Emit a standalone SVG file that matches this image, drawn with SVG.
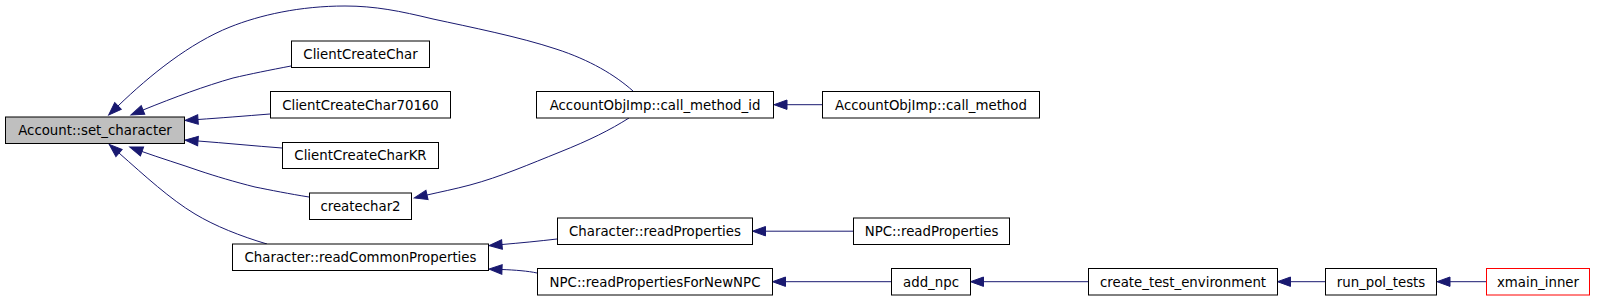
<svg xmlns="http://www.w3.org/2000/svg" width="1597" height="300" viewBox="0 0 1597 300">
<style>
.n rect{fill:#ffffff;stroke:#000000;stroke-width:1}
.n text{font-family:"DejaVu Sans",sans-serif;font-size:13.33px;fill:#000000;text-anchor:middle}
.e path{fill:none;stroke:#191970;stroke-width:1;marker-end:url(#arr)}
</style>
<defs>
<marker id="arr" markerUnits="userSpaceOnUse" markerWidth="16" markerHeight="12" refX="0" refY="0" viewBox="0 -6 16 12" orient="auto" overflow="visible">
<path d="M0,-4.7 L13,0 L0,4.7 Z" fill="#191970" stroke="#191970" stroke-width="1"/>
</marker>
</defs>
<rect width="1597" height="300" fill="#ffffff"/>
<g class="e" id="edges">
<path d="M633,91 C615,75 590,60 556,49 C520,37 470,27 433,19 C400,11 375,6 345,6 C300,6 260,15 230,27 C190,43 150,75 118,106"/>
<path d="M291,66 C270,70 250,74 233,78 C205,86 175,97 143,110"/>
<path d="M270,114 C245,116 220,118 198,119.5"/>
<path d="M282,148 C255,146 225,143 198,141"/>
<path d="M309,197 C290,194 270,190 255,187 C235,182 215,176 200,171 C180,164 160,158 142,151.5"/>
<path d="M267,244 C240,236 215,226 195,214 C170,199 145,176 119,153"/>
<path d="M629,118 C610,130 590,140 560,152 C530,164 500,177 470,185 C455,189 440,192 427,195"/>
<path d="M557,239 C540,241 520,243 502,244.5"/>
<path d="M537,273 C528,271 515,270 502,269.5"/>
<path d="M822,104.7 L787,104.7"/>
<path d="M853,231.2 L765.5,231.2"/>
<path d="M891,281.7 L785.5,281.7"/>
<path d="M1088,281.7 L983.5,281.7"/>
<path d="M1325,281.7 L1290.5,281.7"/>
<path d="M1486,281.7 L1450,281.7"/>
</g>
<g class="n" id="set_character"><rect x="5.5" y="117" width="179" height="26.5" style="fill:#bfbfbf"/><text x="95" y="135">Account::set_character</text></g>
<g class="n" id="ClientCreateChar"><rect x="291.5" y="41" width="138" height="26.5"/><text x="360.5" y="59">ClientCreateChar</text></g>
<g class="n" id="ClientCreateChar70160"><rect x="270.5" y="91.5" width="180" height="26.5"/><text x="360.5" y="109.5">ClientCreateChar70160</text></g>
<g class="n" id="ClientCreateCharKR"><rect x="282.5" y="142.5" width="156" height="26"/><text x="360.5" y="160.3">ClientCreateCharKR</text></g>
<g class="n" id="createchar2"><rect x="309.5" y="193" width="102" height="26.5"/><text x="360.5" y="211">createchar2</text></g>
<g class="n" id="readCommonProperties"><rect x="232.5" y="244" width="256" height="26.5"/><text x="360.5" y="262">Character::readCommonProperties</text></g>
<g class="n" id="call_method_id"><rect x="536.5" y="91.5" width="237" height="26.5"/><text x="655" y="109.5">AccountObjImp::call_method_id</text></g>
<g class="n" id="call_method"><rect x="822.5" y="91.5" width="217" height="26.5"/><text x="931" y="109.5">AccountObjImp::call_method</text></g>
<g class="n" id="Character_readProperties"><rect x="557.5" y="218" width="195" height="26.5"/><text x="655" y="236">Character::readProperties</text></g>
<g class="n" id="NPC_readProperties"><rect x="853.5" y="218" width="156" height="26.5"/><text x="931.5" y="236">NPC::readProperties</text></g>
<g class="n" id="readPropertiesForNewNPC"><rect x="537.5" y="268.5" width="235" height="26.5"/><text x="655" y="286.5">NPC::readPropertiesForNewNPC</text></g>
<g class="n" id="add_npc"><rect x="891.5" y="268.5" width="79" height="26.5"/><text x="931" y="286.5">add_npc</text></g>
<g class="n" id="create_test_environment"><rect x="1088.5" y="268.5" width="189" height="26.5"/><text x="1183" y="286.5">create_test_environment</text></g>
<g class="n" id="run_pol_tests"><rect x="1325.5" y="268.5" width="111" height="26.5"/><text x="1381" y="286.5">run_pol_tests</text></g>
<g class="n" id="xmain_inner"><rect x="1486.5" y="268.5" width="103" height="26.5" style="stroke:#ff0000"/><text x="1538" y="286.5">xmain_inner</text></g>
</svg>
